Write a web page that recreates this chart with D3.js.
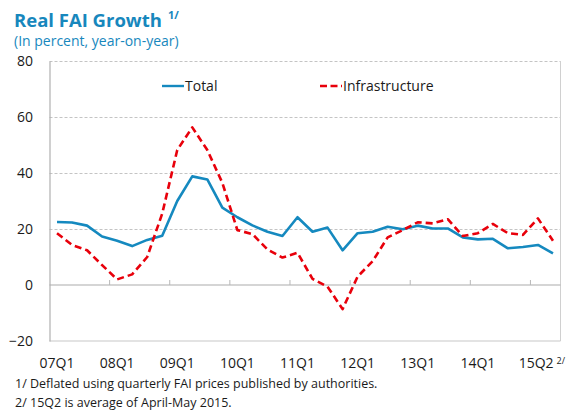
<!DOCTYPE html>
<html>
<head>
<meta charset="utf-8">
<script src="https://cdn.jsdelivr.net/npm/d3@7/dist/d3.min.js"></script>
<style>
  html, body { margin: 0; padding: 0; background: #fff; }
  svg { display: block; font-family: "Open Sans", "Noto Sans", sans-serif; }
</style>
</head>
<body>
<script>
// ---- data ----
const categories = [
  "07Q1","07Q2","07Q3","07Q4","08Q1","08Q2","08Q3","08Q4",
  "09Q1","09Q2","09Q3","09Q4","10Q1","10Q2","10Q3","10Q4",
  "11Q1","11Q2","11Q3","11Q4","12Q1","12Q2","12Q3","12Q4",
  "13Q1","13Q2","13Q3","13Q4","14Q1","14Q2","14Q3","14Q4",
  "15Q1","15Q2"
];
const total = [
  22.5,22.3,21.2,17.3,15.8,13.9,16.1,17.6,
  30.0,38.8,37.7,27.6,24.2,21.3,19.0,17.5,
  24.2,19.0,20.5,12.4,18.5,19.0,20.8,19.9,
  21.2,20.2,20.2,17.0,16.3,16.5,13.1,13.6,
  14.3,11.3
];
const infrastructure = [
  18.5,14.3,12.4,7.1,2.0,3.8,10.0,25.5,
  48.2,56.3,48.2,36.5,19.6,18.2,12.7,9.8,
  11.5,2.2,-0.6,-8.6,3.0,8.5,17.0,19.6,
  22.4,22.0,23.5,17.5,18.5,21.8,18.5,17.9,
  23.8,15.8
];
const seriesNames = ["Total", "Infrastructure"];
const yTicks = [-20, 0, 20, 40, 60, 80];
const xLabelCats = ["07Q1","08Q1","09Q1","10Q1","11Q1","12Q1","13Q1","14Q1","15Q2"];
const xTickCats = ["08Q1","09Q1","10Q1","11Q1","12Q1","13Q1","14Q1","15Q1"];
const titleText = "Real FAI Growth";
const subtitleText = "(In percent, year-on-year)";
const footnotes = [
  "1/ Deflated using quarterly FAI prices published by authorities.",
  "2/ 15Q2 is average of April-May 2015."
];

// ---- layout ----
const W = 568, H = 410;
const L = 49.5, R = 560.5, T = 61, B = 341;
const blue = "#1589bf", red = "#e8000b", titleBlue = "#1787bd";

const svg = d3.select("body").append("svg").attr("width", W).attr("height", H);

const x = d3.scaleBand().domain(categories).range([L, R]).padding(0);
const bw = x.bandwidth();
const xc = c => x(c) + bw / 2;
const y = d3.scaleLinear().domain([-20, 80]).range([B, T]);

// gridlines
svg.append("g").selectAll("line").data(yTicks.filter(v => v !== 0 && v !== -20))
  .join("line")
  .attr("x1", L).attr("x2", R)
  .attr("y1", d => y(d) + 0.5).attr("y2", d => y(d) + 0.5)
  .attr("stroke", "#c4c4c4").attr("stroke-width", 1)
  .attr("stroke-dasharray", "3,2");

// plot frame (right, bottom)
svg.append("line").attr("x1", R).attr("x2", R).attr("y1", T).attr("y2", B)
  .attr("stroke", "#d0d0d0").attr("stroke-width", 1);
svg.append("line").attr("x1", L).attr("x2", R).attr("y1", B).attr("y2", B)
  .attr("stroke", "#c8c8c8").attr("stroke-width", 1.2);

// y axis
const yAxis = svg.append("g").attr("transform", `translate(${L},0)`)
  .call(d3.axisLeft(y).tickValues(yTicks).tickSize(0).tickPadding(16.5).tickFormat(d3.format("d")));
yAxis.select(".domain").attr("stroke", "#b0b0b0").attr("stroke-width", 1.2);
yAxis.selectAll("text").attr("font-size", 14).attr("fill", "#1a1a1a")
  .attr("font-family", "'Open Sans', sans-serif");

// zero line with ticks at year boundaries
svg.append("line").attr("x1", L).attr("x2", R).attr("y1", y(0)).attr("y2", y(0))
  .attr("stroke", "#ababab").attr("stroke-width", 1.2);
svg.append("g").selectAll("line").data(xTickCats).join("line")
  .attr("x1", d => x(d)).attr("x2", d => x(d))
  .attr("y1", y(0)).attr("y2", y(0) - 5)
  .attr("stroke", "#b8b8b8").attr("stroke-width", 1);

// x labels
const xAxis = svg.append("g").attr("transform", `translate(0,${B})`)
  .call(d3.axisBottom(x).tickValues(xLabelCats).tickSize(0).tickPadding(17));
xAxis.select(".domain").remove();
xAxis.selectAll("text").attr("font-size", 14).attr("fill", "#1a1a1a")
  .attr("font-family", "'Open Sans', sans-serif");
const lastTxt = xAxis.selectAll(".tick").filter(d => d === "15Q2").select("text");
lastTxt.attr("text-anchor", "end").attr("x", 12);
lastTxt.append("tspan").attr("font-size", 9).attr("dx", 3).attr("dy", "-0.45em").text("2/");

// lines
const lineGen = d3.line().x((d, i) => xc(categories[i])).y(d => y(d));
svg.append("path").datum(total).attr("d", lineGen)
  .attr("fill", "none").attr("stroke", blue).attr("stroke-width", 2.6)
  .attr("stroke-linejoin", "round");
svg.append("path").datum(infrastructure).attr("d", lineGen)
  .attr("fill", "none").attr("stroke", red).attr("stroke-width", 2.6)
  .attr("stroke-dasharray", "7,4").attr("stroke-linejoin", "round");

// legend
const legendItems = [
  {name: seriesNames[0], color: blue, dash: null, x: 162},
  {name: seriesNames[1], color: red, dash: "7,3.5", x: 320}
];
const lg = svg.append("g").selectAll("g").data(legendItems).join("g")
  .attr("transform", d => `translate(${d.x},86)`);
lg.append("line").attr("x1", 0).attr("x2", 22).attr("y1", 0).attr("y2", 0)
  .attr("stroke", d => d.color).attr("stroke-width", 2.4)
  .attr("stroke-dasharray", d => d.dash);
lg.append("text").attr("x", 23).attr("y", 0).attr("dy", "0.35em")
  .attr("font-size", 14).attr("fill", "#1a1a1a").text(d => d.name);

// title
const title = svg.append("text").attr("x", 14).attr("y", 27)
  .attr("font-size", 18.5).attr("font-weight", "bold").attr("fill", titleBlue)
  .text(titleText);
title.append("tspan").attr("font-size", 11).attr("dx", 6).attr("dy", -8).text("1/");
svg.append("text").attr("x", 14).attr("y", 46)
  .attr("font-size", 14).attr("fill", titleBlue).text(subtitleText);

// footnotes
svg.append("g").selectAll("text").data(footnotes).join("text")
  .attr("x", 15).attr("y", (d, i) => 388 + i * 19)
  .attr("font-size", 12.5).attr("fill", "#1a1a1a").text(d => d);
</script>
</body>
</html>
